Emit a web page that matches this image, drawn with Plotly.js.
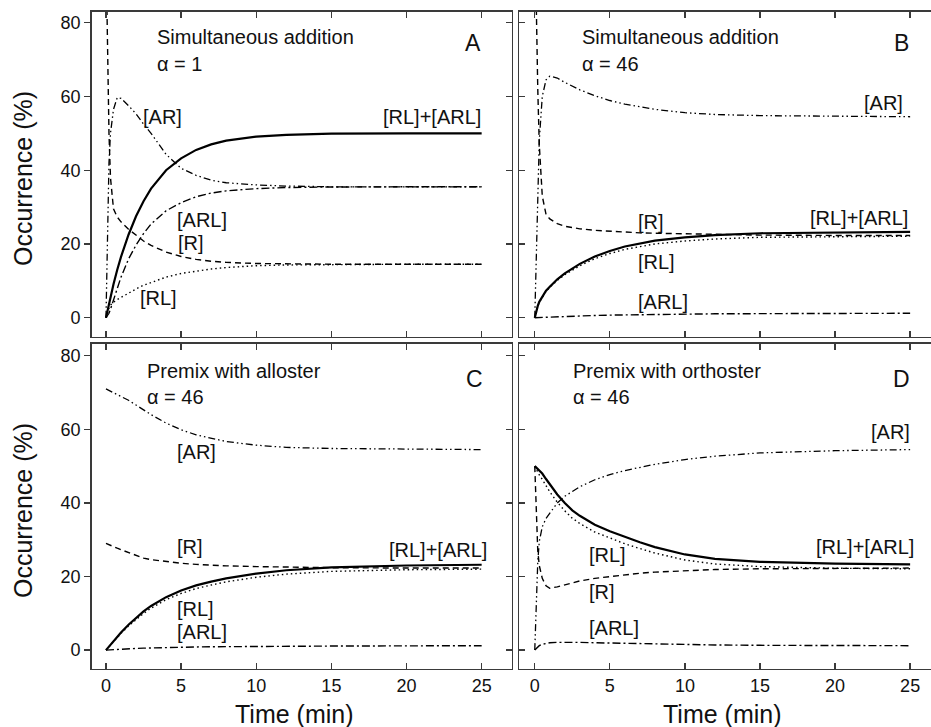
<!DOCTYPE html>
<html>
<head>
<meta charset="utf-8">
<script src="https://cdn.plot.ly/plotly-3.0.1.min.js"></script>
<style>html,body{margin:0;padding:0;background:#fff;}#chart{width:931px;height:727px;}</style>
</head>
<body>
<div id="chart"></div>
<script>
// Time grid (min)
const time = [0, 0.1, 0.2, 0.3, 0.5, 0.75, 1, 1.5, 2, 2.5, 3, 4, 5, 6, 7, 8, 10, 12, 15, 20, 25];

// Panel A: Simultaneous addition, alpha = 1
const A_total = [0, 2, 3.8, 5.7, 9.1, 13, 16.5, 22.5, 27.5, 31.6, 35, 40, 43.2, 45.5, 47, 48, 49.1, 49.6, 49.9, 50, 50];
const A_RL    = [0, 1.5, 2.6, 3.4, 4.2, 4.9, 5.5, 6.6, 7.8, 8.8, 9.6, 11, 12, 12.7, 13.2, 13.6, 14.1, 14.3, 14.45, 14.5, 14.5];
const A_ARL   = [0, 0.5, 1.2, 2.3, 4.9, 8.1, 11, 15.9, 19.7, 22.8, 25.4, 29, 31.2, 32.8, 33.8, 34.4, 35, 35.3, 35.45, 35.5, 35.5];
const A_R     = [100, 70, 50, 38, 29.5, 27.3, 26, 24, 22.3, 20.8, 19.6, 17.8, 16.6, 15.8, 15.3, 15, 14.7, 14.55, 14.5, 14.5, 14.5];
const A_AR    = [0, 25, 42, 50, 56.5, 59.7, 59.5, 57.5, 55.3, 52.5, 50, 44.3, 40.5, 38.6, 37.3, 36.6, 36, 35.7, 35.5, 35.5, 35.5];

// Panel B: Simultaneous addition, alpha = 46
const B_total = [0, 2, 3.2, 4.3, 5.8, 7.3, 8.4, 10.4, 12, 13.4, 14.6, 16.6, 18.1, 19.3, 20.2, 20.9, 21.8, 22.4, 22.9, 23.2, 23.3];
const B_RL    = [0, 1.98, 3.16, 4.24, 5.7, 7.15, 8.2, 10.12, 11.65, 12.97, 14.1, 16.0, 17.4, 18.52, 19.36, 20.0, 20.8, 21.35, 21.8, 22.05, 22.1];
const B_ARL   = [0, 0.02, 0.04, 0.06, 0.1, 0.15, 0.2, 0.28, 0.35, 0.43, 0.5, 0.6, 0.7, 0.78, 0.84, 0.9, 1.0, 1.05, 1.1, 1.15, 1.2];
const B_R     = [100, 85, 62, 47, 33, 28, 26.8, 25.5, 24.8, 24.4, 24.1, 23.7, 23.4, 23.2, 23, 22.9, 22.7, 22.5, 22.4, 22.3, 22.3];
const B_AR    = [0, 15, 35, 48, 60, 64.5, 65.5, 65, 63.8, 62.8, 61.8, 60.2, 58.9, 57.9, 57.1, 56.5, 55.6, 55.1, 54.8, 54.6, 54.5];

// Panel C: Premix with alloster, alpha = 46
const C_total = [0, 0.5, 1, 1.5, 2.5, 3.7, 4.8, 6.9, 8.8, 10.5, 12, 14.4, 16.2, 17.6, 18.6, 19.5, 20.8, 21.7, 22.5, 23.0, 23.2];
const C_RL    = [0, 0.47, 0.95, 1.42, 2.37, 3.51, 4.55, 6.55, 8.35, 9.97, 11.4, 13.7, 15.4, 16.74, 17.69, 18.55, 19.8, 20.65, 21.4, 21.85, 22.0];
const C_ARL   = [0, 0.03, 0.05, 0.08, 0.13, 0.19, 0.25, 0.35, 0.45, 0.53, 0.6, 0.7, 0.8, 0.86, 0.91, 0.95, 1.0, 1.05, 1.1, 1.15, 1.2];
const C_R     = [29, 28.8, 28.6, 28.5, 28.1, 27.7, 27.3, 26.5, 25.7, 25.0, 24.6, 24.0, 23.6, 23.3, 23.1, 22.9, 22.7, 22.5, 22.4, 22.3, 22.3];
const C_AR    = [71, 70.8, 70.6, 70.4, 70, 69.5, 69, 67.9, 66.6, 65.2, 64, 61.7, 59.9, 58.5, 57.5, 56.7, 55.7, 55.1, 54.8, 54.6, 54.5];

// Panel D: Premix with orthoster, alpha = 46
const D_total = [50, 49.6, 49.2, 48.8, 48, 46.5, 45, 42.3, 40, 38, 36.5, 34.1, 32.3, 30.7, 29.3, 28, 26, 24.8, 24, 23.5, 23.3];
const D_RL    = [50, 49.1, 48.3, 47.6, 46.4, 44.65, 43, 40.2, 37.85, 35.85, 34.4, 32.1, 30.4, 28.9, 27.6, 26.38, 24.5, 23.4, 22.7, 22.25, 22.1];
const D_ARL   = [0, 0.5, 0.9, 1.2, 1.6, 1.85, 2.0, 2.1, 2.15, 2.15, 2.1, 2.0, 1.9, 1.8, 1.7, 1.62, 1.5, 1.4, 1.3, 1.25, 1.2];
const D_R     = [50, 37, 27, 23, 19.5, 17.5, 16.8, 17.2, 17.8, 18.3, 18.8, 19.5, 20.0, 20.5, 20.9, 21.2, 21.6, 21.9, 22.1, 22.2, 22.3];
const D_AR    = [0, 14, 24, 29.5, 33.5, 35.8, 37.3, 40, 41.8, 43.2, 44.4, 46.3, 47.7, 48.8, 49.7, 50.5, 51.8, 52.7, 53.6, 54.2, 54.5];

const xTicks = [0, 5, 10, 15, 20, 25];
const xTickText = ['0', '5', '10', '15', '20', '25'];
const yTicks = [0, 20, 40, 60, 80];
const yTickText = ['0', '20', '40', '60', '80'];

const panelTitles = ['Simultaneous addition', 'Simultaneous addition', 'Premix with alloster', 'Premix with orthoster'];
const panelAlpha = ['\u03B1 = 1', '\u03B1 = 46', '\u03B1 = 46', '\u03B1 = 46'];
const panelLetters = ['A', 'B', 'C', 'D'];

const FONT = 'Liberation Sans, Arial, sans-serif';
const W = 931, H = 727;

const styles = {
  total: {color: '#000', width: 2.2, dash: 'solid'},
  R:     {color: '#000', width: 1.4, dash: '6px,4px'},
  RL:    {color: '#000', width: 1.4, dash: '1.5px,3px'},
  AR:    {color: '#000', width: 1.3, dash: '7px,3px,1.5px,3px,1.5px,3px'},
  ARL:   {color: '#000', width: 1.4, dash: '8px,3px,2px,3px'}
};

const panels = [
  {xa: 'x',  ya: 'y',  d: {total: A_total, RL: A_RL, ARL: A_ARL, R: A_R, AR: A_AR}},
  {xa: 'x2', ya: 'y2', d: {total: B_total, RL: B_RL, ARL: B_ARL, R: B_R, AR: B_AR}},
  {xa: 'x3', ya: 'y3', d: {total: C_total, RL: C_RL, ARL: C_ARL, R: C_R, AR: C_AR}},
  {xa: 'x4', ya: 'y4', d: {total: D_total, RL: D_RL, ARL: D_ARL, R: D_R, AR: D_AR}}
];

const traces = [];
panels.forEach(p => {
  ['AR', 'ARL', 'R', 'RL', 'total'].forEach(k => {
    traces.push({x: time, y: p.d[k], xaxis: p.xa, yaxis: p.ya, type: 'scatter', mode: 'lines',
      line: styles[k], showlegend: false, hoverinfo: 'skip', cliponaxis: true});
  });
});
// helper traces for inward right-side ticks on A and C
traces.push({x: [null], y: [null], xaxis: 'x', yaxis: 'y5', type: 'scatter', mode: 'lines', showlegend: false, hoverinfo: 'skip'});
traces.push({x: [null], y: [null], xaxis: 'x3', yaxis: 'y6', type: 'scatter', mode: 'lines', showlegend: false, hoverinfo: 'skip'});

// pixel geometry
const leftDom = [91.7 / W, 511.7 / W];
const rightDom = [519.3 / W, 1];
const topDom = [1 - 336.5 / H, 1 - 12 / H];
const botDom = [1 - 668.5 / H, 1 - 344 / H];
const xRangeL = [-0.95, 27.0];
const xRangeR = [-1.03, 26.39];
const yRangeT = [-5.1, 82.9];
const yRangeB = [-5.0, 83.2];

const LINEC = '#3a3a3a';
function xAxis(dom, rng, labels, anchor) {
  return {domain: dom, range: rng, anchor: anchor, showgrid: false, zeroline: false,
    showline: true, linecolor: LINEC, linewidth: 1.6, mirror: 'ticks',
    ticks: 'inside', ticklen: 6, tickwidth: 1.3, tickcolor: LINEC,
    tickmode: 'array', tickvals: xTicks, ticktext: xTickText,
    showticklabels: labels, tickfont: {family: FONT, size: 18, color: '#111'}, fixedrange: true};
}
function yAxis(dom, rng, labels, anchor, mirror, tickdir) {
  return {domain: dom, range: rng, anchor: anchor, showgrid: false, zeroline: false,
    showline: true, linecolor: LINEC, linewidth: 1.6, mirror: mirror,
    ticks: tickdir, ticklen: 6, tickwidth: 1.3, tickcolor: LINEC,
    tickmode: 'array', tickvals: yTicks, ticktext: yTickText,
    showticklabels: labels, tickfont: {family: FONT, size: 18, color: '#111'}, fixedrange: true};
}

const layout = {
  width: W, height: H,
  margin: {l: 0, r: 0, t: 0, b: 0, pad: 0},
  paper_bgcolor: '#fff', plot_bgcolor: '#fff',
  showlegend: false,
  font: {family: FONT, color: '#111'},
  xaxis:  xAxis(leftDom, xRangeL, false, 'y'),
  xaxis2: xAxis(rightDom, xRangeR, false, 'y2'),
  xaxis3: xAxis(leftDom, xRangeL, true, 'y3'),
  xaxis4: xAxis(rightDom, xRangeR, true, 'y4'),
  yaxis:  yAxis(topDom, yRangeT, true, 'x', true, 'outside'),
  yaxis2: yAxis(topDom, yRangeT, false, 'x2', false, 'inside'),
  yaxis3: yAxis(botDom, yRangeB, true, 'x3', true, 'outside'),
  yaxis4: yAxis(botDom, yRangeB, false, 'x4', false, 'inside'),
  yaxis5: Object.assign(yAxis(topDom, yRangeT, false, 'x', false, 'inside'), {overlaying: 'y', side: 'right', showline: false}),
  yaxis6: Object.assign(yAxis(botDom, yRangeB, false, 'x3', false, 'inside'), {overlaying: 'y3', side: 'right', showline: false}),
  annotations: []
};

function ann(xr, yr, x, y, text, xanchor, size) {
  layout.annotations.push({xref: xr, yref: yr, x: x, y: y, text: text, showarrow: false,
    xanchor: xanchor, yanchor: 'middle', font: {family: FONT, size: size, color: '#111'}});
}
const LS = 20;
// Panel A
ann('x', 'y', 3.26, 76.1, panelTitles[0], 'left', LS);
ann('x', 'y', 3.26, 68.8, panelAlpha[0], 'left', LS);
ann('x', 'y', 24.45, 74.5, panelLetters[0], 'center', 23);
ann('x', 'y', 2.31, 54.4, '[AR]', 'left', LS);
ann('x', 'y', 25.08, 54.4, '[RL]+[ARL]', 'right', LS);
ann('x', 'y', 4.59, 26.5, '[ARL]', 'left', LS);
ann('x', 'y', 4.63, 20.2, '[R]', 'left', LS);
ann('x', 'y', 2.15, 5.3, '[RL]', 'left', LS);
// Panel B
ann('x2', 'y2', 3.02, 76.1, panelTitles[1], 'left', LS);
ann('x2', 'y2', 3.02, 68.8, panelAlpha[1], 'left', LS);
ann('x2', 'y2', 24.4, 74.5, panelLetters[1], 'center', 23);
ann('x2', 'y2', 24.67, 58.1, '[AR]', 'right', LS);
ann('x2', 'y2', 6.72, 26.0, '[R]', 'left', LS);
ann('x2', 'y2', 25.0, 27.0, '[RL]+[ARL]', 'right', LS);
ann('x2', 'y2', 6.72, 15.2, '[RL]', 'left', LS);
ann('x2', 'y2', 6.72, 4.3, '[ARL]', 'left', LS);
// Panel C
ann('x3', 'y3', 2.6, 75.9, panelTitles[2], 'left', LS);
ann('x3', 'y3', 2.6, 68.9, panelAlpha[2], 'left', LS);
ann('x3', 'y3', 24.5, 73.8, panelLetters[2], 'center', 23);
ann('x3', 'y3', 4.6, 53.9, '[AR]', 'left', LS);
ann('x3', 'y3', 4.6, 28.1, '[R]', 'left', LS);
ann('x3', 'y3', 25.5, 27.2, '[RL]+[ARL]', 'right', LS);
ann('x3', 'y3', 4.6, 11.3, '[RL]', 'left', LS);
ann('x3', 'y3', 4.6, 5.0, '[ARL]', 'left', LS);
// Panel D
ann('x4', 'y4', 2.43, 75.9, panelTitles[3], 'left', LS);
ann('x4', 'y4', 2.43, 68.9, panelAlpha[3], 'left', LS);
ann('x4', 'y4', 24.45, 73.8, panelLetters[3], 'center', 23);
ann('x4', 'y4', 25.1, 59.3, '[AR]', 'right', LS);
ann('x4', 'y4', 25.4, 28.1, '[RL]+[ARL]', 'right', LS);
ann('x4', 'y4', 3.46, 25.8, '[RL]', 'left', LS);
ann('x4', 'y4', 3.46, 15.8, '[R]', 'left', LS);
ann('x4', 'y4', 3.46, 5.9, '[ARL]', 'left', LS);

// Axis titles
function titleAnn(x, y, text, angle) {
  layout.annotations.push({xref: 'paper', yref: 'paper', x: x, y: y, text: text, showarrow: false,
    xanchor: 'center', yanchor: 'middle', textangle: angle, font: {family: FONT, size: 25, color: '#111'}});
}
titleAnn(294 / W, 1 - 714 / H, 'Time (min)', 0);
titleAnn(722.3 / W, 1 - 714 / H, 'Time (min)', 0);
titleAnn(23 / W, 1 - 179 / H, 'Occurrence (%)', -90);
titleAnn(23 / W, 1 - 511 / H, 'Occurrence (%)', -90);

Plotly.newPlot('chart', traces, layout, {displayModeBar: false, staticPlot: true});
</script>
</body>
</html>
